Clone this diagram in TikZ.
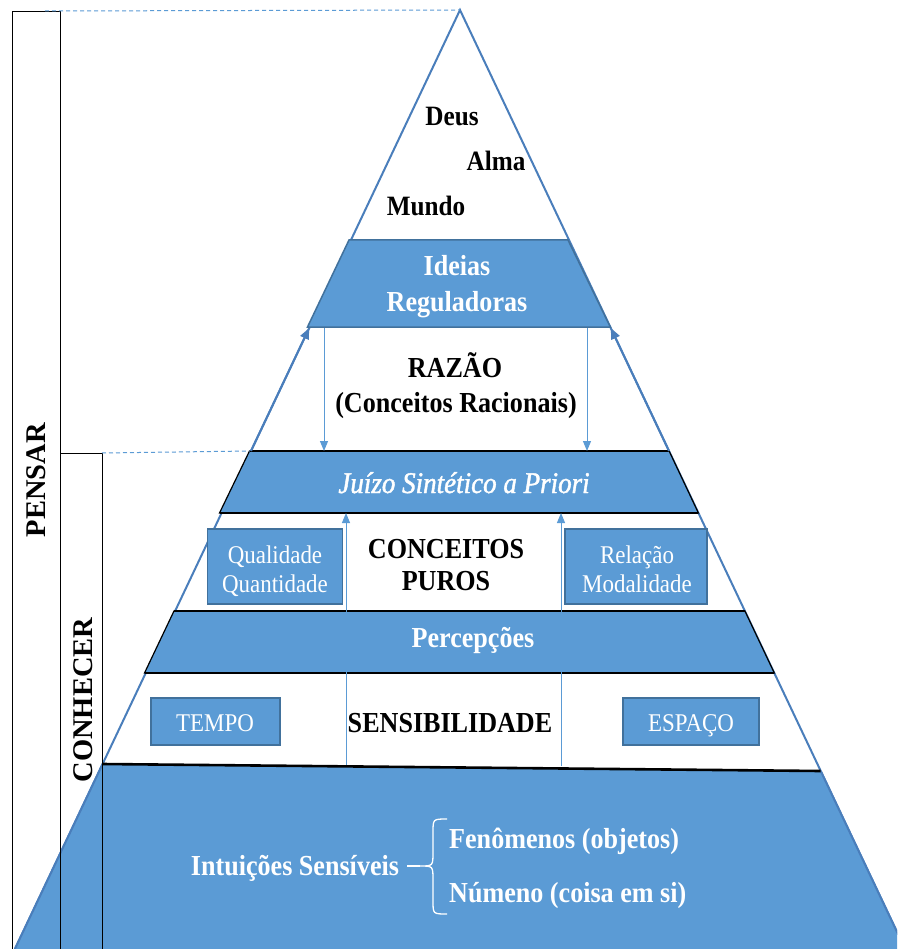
\documentclass[tikz,border=0pt]{standalone}
\usepackage{fontspec}
\setmainfont{Liberation Serif}
\newfontfamily\cond[FakeStretch=0.9]{Liberation Serif}
\newfontfamily\condit[FakeStretch=0.9,FakeBold=1.4]{Liberation Serif}
\usetikzlibrary{arrows.meta}
\definecolor{fillblue}{HTML}{5B9BD5}
\definecolor{edgeblue}{HTML}{41719C}
\definecolor{triblue}{HTML}{4A7EBB}
\tikzset{
  band/.style={fill=fillblue, draw=black, line width=1.2pt},
  bandline/.style={draw=black, line width=2.6pt},
  ideaband/.style={fill=fillblue, draw=edgeblue, line width=1.5pt},
  catbox/.style={fill=fillblue, draw=edgeblue, line width=1.5pt},
  triedge/.style={draw=triblue, line width=2pt},
  edgearrow/.style={draw=triblue, line width=2pt, -{Triangle[length=11pt,width=9pt]}},
  thinarrow/.style={draw=fillblue, line width=1pt, -{Triangle[length=10pt,width=8pt]}},
  guide/.style={draw=fillblue, line width=1pt, dash pattern=on 4pt off 3pt},
  frame/.style={draw=black, line width=1pt},
  wbold/.style={text=white, font=\cond\bfseries\fontsize{29}{33}\selectfont, anchor=base, inner sep=0pt},
  kbold/.style={text=black, font=\cond\bfseries\fontsize{29}{33}\selectfont, anchor=base, inner sep=0pt},
  ktop/.style={text=black, font=\cond\bfseries\fontsize{28}{32}\selectfont, anchor=base, inner sep=0pt},
  wreg/.style={text=white, font=\cond\fontsize{25.5}{29}\selectfont, anchor=base, inner sep=0pt},
  witalic/.style={text=white, font=\condit\itshape\fontsize{30}{34}\selectfont, anchor=base, inner sep=0pt},
  sidelabel/.style={text=black, font=\bfseries\fontsize{28.5}{32}\selectfont, rotate=90, inner sep=0pt},
}
\begin{document}
\begin{tikzpicture}[x=1pt,y=-1pt]
\useasboundingbox (0,0) rectangle (897,949);
\fill[white] (0,0) rectangle (897,949);
\begin{scope}
\clip (0,0) rectangle (897,949);
% triangle corners
\coordinate (apex) at (460,10);
\coordinate (baseL) at (14.9,949);
\coordinate (baseR) at (905.1,949);
% outer triangle edges
\draw[triedge] (baseL) -- (apex) -- (baseR);
% Ideias Reguladoras
\coordinate (iTL) at (349,240);
\coordinate (iTR) at (568,240);
\coordinate (iBR) at (610.3,327);
\coordinate (iBL) at (307.5,327);
\draw[ideaband] (iTL) -- (iTR) -- (iBR) -- (iBL) -- cycle;
% Juizo
\coordinate (jTL) at (249.5,451);
\coordinate (jTR) at (669.1,451);
\coordinate (jBR) at (698.4,513);
\coordinate (jBL) at (219.5,513);
\draw[band] (jTL) -- (jTR) -- (jBR) -- (jBL) -- cycle;
\draw[bandline] (jTL) -- (jTR) (jBL) -- (jBR);
% Percepcoes
\coordinate (pTL) at (174,611);
\coordinate (pTR) at (744.9,611);
\coordinate (pBR) at (774.3,673);
\coordinate (pBL) at (144.5,673);
\draw[band] (pTL) -- (pTR) -- (pBR) -- (pBL) -- cycle;
\draw[bandline] (pTL) -- (pTR) (pBL) -- (pBR);
% Intuicoes
\coordinate (nTL) at (102.6,764);
\coordinate (nTR) at (820.7,771);
\fill[fillblue] (nTL) -- (nTR) -- (baseR) -- (baseL) -- cycle;
\draw[triedge] (nTR) -- (baseR) (nTL) -- (baseL);
\draw[bandline] (nTL) -- (nTR);
\end{scope}
% edge arrows in the RAZAO band
\coordinate (rL0) at (251,451);
\coordinate (rL1) at (309.2,328);
\coordinate (rR0) at (669,451);
\coordinate (rR1) at (610.8,328);
\draw[edgearrow] (rL0) -- (rL1);
\draw[edgearrow] (rR0) -- (rR1);
% thin arrows down (Ideias -> Juizo)
\coordinate (dL0) at (324,328);
\coordinate (dL1) at (324,451);
\coordinate (dR0) at (587,328);
\coordinate (dR1) at (587,451);
\draw[thinarrow] (dL0) -- (dL1);
\draw[thinarrow] (dR0) -- (dR1);
% thin arrows up (Intuicoes -> Juizo)
\coordinate (uL0) at (346,764.5);
\coordinate (uL1) at (346,513);
\coordinate (uR0) at (561,766);
\coordinate (uR1) at (561,513);
\draw[thinarrow] (uL0) -- (uL1);
\draw[thinarrow] (uR0) -- (uR1);
% category boxes
\node[catbox, minimum width=135pt, minimum height=75pt, inner sep=0pt] (qbox) at (275,566.5) {};
\node[catbox, minimum width=142pt, minimum height=75pt, inner sep=0pt] (rbox) at (636,566.5) {};
\node[catbox, minimum width=129pt, minimum height=47pt, inner sep=0pt] (tbox) at (215.5,721.5) {};
\node[catbox, minimum width=136pt, minimum height=47pt, inner sep=0pt] (ebox) at (691,721.5) {};
% left frames
\coordinate (pF0) at (12,949);
\coordinate (pF1) at (12,12);
\coordinate (pF2) at (60,12);
\coordinate (pF3) at (60,949);
\draw[frame] (pF0) -- (pF1) -- (pF2) -- (pF3);
\coordinate (cF1) at (60,453);
\coordinate (cF2) at (102,453);
\coordinate (cF3) at (102,949);
\draw[frame] (cF1) -- (cF2) -- (cF3);
% dashed guides
\coordinate (g0) at (45,11);
\draw[guide] (g0) -- (apex);
\draw[guide] (cF2) -- (jTL);
% brace
\coordinate (brTop) at (447,819);
\coordinate (brBot) at (447,914);
\coordinate (brTip) at (407,866);
\draw[white, line width=1.3pt] (brTop) .. controls (433,819) .. (433,832) -- (433,852) .. controls (433,866) .. (420,866) .. controls (433,866) .. (433,880) -- (433,901) .. controls (433,914) .. (brBot);
\draw[white, line width=1.3pt] (brTip) -- (420,866);
% texts
\node[ktop] (deus) at (452,126) {Deus};
\node[ktop] (alma) at (496,171) {Alma};
\node[ktop] (mundo) at (426,216) {Mundo};
\node[wbold] (ideias) at (457,276) {Ideias};
\node[wbold] (regul) at (457,311) {Reguladoras};
\node[kbold] (razao) at (455,377) {RAZÃO};
\node[kbold] (concrac) at (456,412) {(Conceitos Racionais)};
\node[witalic] (juizo) at (464,493) {Juízo Sintético a Priori};
\node[wreg] (qual) at (275,563) {Qualidade};
\node[wreg] (quant) at (275,592) {Quantidade};
\node[kbold] (conc) at (446,558) {CONCEITOS};
\node[kbold] (puros) at (446,590) {PUROS};
\node[wreg] (rel) at (637,563) {Relação};
\node[wreg] (mod) at (637,592) {Modalidade};
\node[wbold] (perc) at (473,647) {Percepções};
\node[wreg] (tempo) at (215,731) {TEMPO};
\node[kbold] (sens) at (450,732) {SENSIBILIDADE};
\node[wreg] (espaco) at (691,731) {ESPAÇO};
\node[wbold] (intu) at (295,875) {Intuições Sensíveis};
\node[wbold, anchor=base west] (fen) at (449,848) {Fenômenos (objetos)};
\node[wbold, anchor=base west] (num) at (449,902) {Númeno (coisa em si)};
\node[sidelabel] (pensar) at (36,480) {PENSAR};
\node[sidelabel] (conhecer) at (83,700) {CONHECER};
\end{tikzpicture}
\end{document}
